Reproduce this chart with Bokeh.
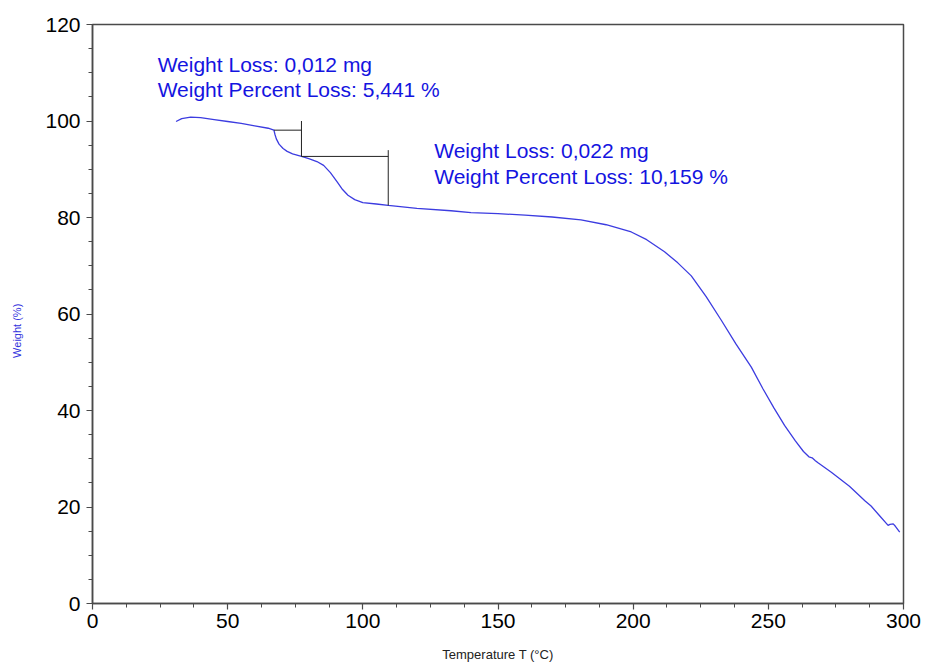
from bokeh.plotting import figure
from bokeh.models import Range1d, SingleIntervalTicker, Label
from bokeh.embed import file_html
from bokeh.resources import INLINE

# TGA curve: temperature (°C) and remaining weight (%)
temperature = [30.9, 33.0, 36.3, 40.0, 45.0, 50.0, 55.0, 60.0, 65.0, 67.1,
               67.5, 68.0, 69.0, 70.5, 72.0, 74.0, 77.3, 80.0, 83.0, 85.5,
               88.0, 90.5, 92.5, 94.5, 97.0, 100.0, 105.0, 109.4, 120.0, 132.6,
               140.0, 150.0, 160.0, 170.0, 180.7, 190.0, 199.3, 205.0, 211.6, 216.5,
               221.5, 227.0, 232.6, 238.0, 243.7, 248.0, 252.0, 256.0, 260.0, 263.0,
               265.0, 266.2, 267.4, 268.5, 273.3, 280.0, 285.7, 288.0, 291.0, 294.3,
               295.0, 296.2, 297.0, 298.6]
weight = [99.9, 100.5, 100.8, 100.7, 100.3, 99.9, 99.5, 99.0, 98.5, 98.1,
          97.2, 96.3, 95.2, 94.3, 93.7, 93.2, 92.66, 92.2, 91.6, 90.8,
          89.3, 87.4, 85.8, 84.6, 83.7, 83.1, 82.8, 82.5, 81.9, 81.4,
          81.0, 80.8, 80.5, 80.1, 79.5, 78.5, 77.0, 75.4, 72.9, 70.6,
          67.9, 63.6, 58.7, 53.8, 49.0, 44.5, 40.6, 36.9, 33.7, 31.5,
          30.4, 30.2, 29.6, 29.1, 27.2, 24.3, 21.3, 20.2, 18.3, 16.2,
          16.4, 16.5, 16.0, 14.8]

# Step analysis: onset temperature, end temperatures of both steps, losses
step_onset = 67.1
step_ends = [77.3, 109.4]
start_level = 98.1
loss_mg = [0.012, 0.022]
loss_pct = [5.441, 10.159]

x_ticks_interval = 50
y_ticks_interval = 20

BLUE_TEXT = "#1414e0"
CURVE = "#3c3ce0"
AXIS = "#4a4a4a"
FONT = "Liberation Sans"

FL, FT, FW, FH = 92, 24, 811, 579   # frame left/top/width/height in px

p = figure(width=925, height=666, frame_width=FW, frame_height=FH,
           min_border_left=FL, min_border_top=FT, min_border_right=925 - FL - FW,
           min_border_bottom=666 - FT - FH,
           x_range=Range1d(0, 300), y_range=Range1d(0, 120),
           output_backend="svg", toolbar_location=None,
           background_fill_color="white", border_fill_color="white")

p.xgrid.visible = False
p.ygrid.visible = False
p.outline_line_color = AXIS
p.outline_line_width = 1.5

p.xaxis.ticker = SingleIntervalTicker(interval=x_ticks_interval, num_minor_ticks=4)
p.yaxis.ticker = SingleIntervalTicker(interval=y_ticks_interval, num_minor_ticks=4)

for ax in (p.xaxis[0], p.yaxis[0]):
    ax.axis_line_color = AXIS
    ax.axis_line_width = 1.5
    ax.major_tick_line_color = AXIS
    ax.minor_tick_line_color = AXIS
    ax.major_tick_line_width = 1.2
    ax.minor_tick_line_width = 1.0
    ax.major_tick_out = 6
    ax.major_tick_in = 0
    ax.minor_tick_out = 4
    ax.minor_tick_in = 0
    ax.major_label_text_font = FONT
    ax.major_label_text_font_size = "21px"
    ax.major_label_text_color = "black"
    ax.axis_label_text_font = FONT
    ax.axis_label_text_font_style = "normal"

p.yaxis.major_label_standoff = 6
p.xaxis.major_label_standoff = 4

# non-breaking padding nudges the rotated title a little below the centre
p.yaxis.axis_label = "Weight (%)" + "\u00a0" * 11
p.yaxis.axis_label_text_font_size = "11px"
p.yaxis.axis_label_text_color = "#3333dd"
p.yaxis.axis_label_standoff = 19

p.xaxis.axis_label = "Temperature T (°C)"
p.xaxis.axis_label_text_font_size = "13px"
p.xaxis.axis_label_text_color = "#222222"
p.xaxis.axis_label_standoff = 16

# main curve
p.line(temperature, weight, line_color=CURVE, line_width=1.3)

# step construction lines
lvl0 = start_level
lvl1 = lvl0 - loss_pct[0]
lvl2 = lvl1 - loss_pct[1]
p.line([step_onset, step_ends[0]], [lvl0, lvl0], line_color="#222222", line_width=1)
p.line([step_ends[0], step_ends[0]], [lvl1, lvl0 + 1.9], line_color="#222222", line_width=1)
p.line([step_ends[0], step_ends[1]], [lvl1, lvl1], line_color="#222222", line_width=1)
p.line([step_ends[1], step_ends[1]], [lvl2, lvl1 + 1.3], line_color="#222222", line_width=1)


def fmt(v):
    return f"{v:.3f}".replace(".", ",")


text_pos = [(24.1, 111.65, 106.45), (126.4, 93.8, 88.6)]
for (tx, y1, y2), mg, pct in zip(text_pos, loss_mg, loss_pct):
    for yy, txt in ((y1, f"Weight Loss: {fmt(mg)} mg"),
                    (y2, f"Weight Percent Loss: {fmt(pct)} %")):
        p.add_layout(Label(x=tx, y=yy, text=txt, text_font=FONT,
                           text_font_size="21px", text_color=BLUE_TEXT,
                           text_baseline="alphabetic", text_align="left"))

open("out.html", "w").write(file_html(p, INLINE))
